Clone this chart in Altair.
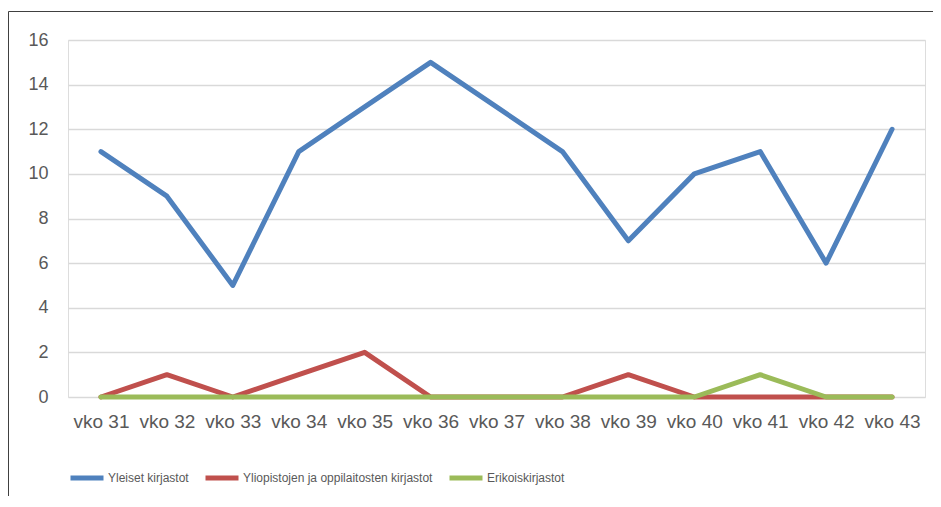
import altair as alt
import pandas as pd

weeks = ["vko 31", "vko 32", "vko 33", "vko 34", "vko 35", "vko 36", "vko 37",
         "vko 38", "vko 39", "vko 40", "vko 41", "vko 42", "vko 43"]
series_names = ["Yleiset kirjastot", "Yliopistojen ja oppilaitosten kirjastot", "Erikoiskirjastot"]
yleiset = [11, 9, 5, 11, 13, 15, 13, 11, 7, 10, 11, 6, 12]
yliopistot = [0, 1, 0, 1, 2, 0, 0, 0, 1, 0, 0, 0, 0]
erikois = [0, 0, 0, 0, 0, 0, 0, 0, 0, 0, 1, 0, 0]
colors = ["#4F81BD", "#C0504D", "#9BBB59"]

rows = []
for name, vals in zip(series_names, [yleiset, yliopistot, erikois]):
    for w, v in zip(weeks, vals):
        rows.append({"viikko": w, "arvo": v, "sarja": name})
df = pd.DataFrame(rows)

FONT = "Liberation Sans, Arial"

color = alt.Color(
    "sarja:N",
    scale=alt.Scale(domain=series_names, range=colors),
    legend=alt.Legend(
        title=None, orient="none", legendX=0, legendY=419, direction="horizontal",
        symbolType="stroke", symbolStrokeWidth=5, symbolSize=1089,
        labelFontSize=12, labelFont=FONT, labelColor="#595959", labelLimit=400,
        columnPadding=6, labelOffset=2,
    ),
)

def series_layer(name):
    return alt.Chart(df).transform_filter(alt.datum.sarja == name).mark_line(
        strokeWidth=5, strokeCap="round", strokeJoin="round"
    ).encode(
        x=alt.X("viikko:N", sort=weeks, title=None,
                scale=alt.Scale(paddingInner=1, paddingOuter=0.5),
                axis=alt.Axis(labelAngle=0, domain=False, ticks=False, grid=False,
                              labelFontSize=19, labelFont=FONT, labelColor="#595959",
                              labelPadding=15)),
        y=alt.Y("arvo:Q", title=None,
                scale=alt.Scale(domain=[0, 16], nice=False),
                axis=alt.Axis(values=list(range(0, 17, 2)), domain=False, ticks=False,
                              gridColor="#D9D9D9", gridWidth=1.3,
                              labelFontSize=18, labelFont=FONT, labelColor="#595959",
                              labelPadding=20)),
        color=color,
    )

border = alt.Chart(pd.DataFrame({"a": [0]})).mark_rect(
    fill=None, stroke="#404040", strokeWidth=1
).encode(
    x=alt.value(-59.5), x2=alt.value(1000), y=alt.value(-28.5), y2=alt.value(600)
)

chart = alt.layer(
    border,
    series_layer(series_names[0]),
    series_layer(series_names[1]),
    series_layer(series_names[2]),
).properties(
    width=857, height=357,
    autosize=alt.AutoSizeParams(type="none"),
    padding={"left": 60, "top": 32, "right": 8, "bottom": 99},
).configure_view(stroke=None).configure(background="white")

chart.save("out.html", embed_options={"renderer": "svg", "actions": False})
